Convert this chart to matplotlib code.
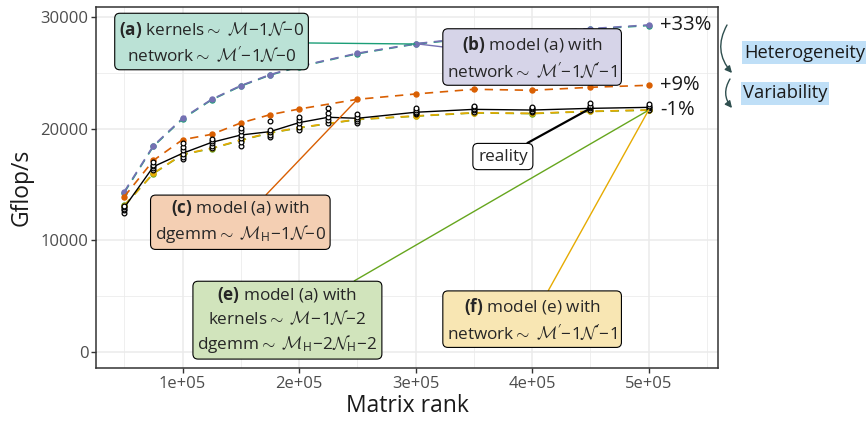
import matplotlib
matplotlib.use('Agg')
import matplotlib.pyplot as plt
from matplotlib import ticker

plt.rcParams['font.family'] = ['Open Sans', 'DejaVu Sans']
plt.rcParams['mathtext.fontset'] = 'custom'
plt.rcParams['mathtext.rm'] = 'Open Sans'
plt.rcParams['mathtext.it'] = 'Open Sans:italic'
plt.rcParams['mathtext.bf'] = 'Open Sans:bold'
plt.rcParams['mathtext.cal'] = 'cmsy10'


# data

model_x = [50000, 75000, 100000, 125000, 150000, 175000, 200000,
           250000, 300000, 350000, 400000, 450000, 500000]
model_a = [14300, 18450, 20900, 22620, 23850, 24830, 25580,
           26750, 27620, 28150, 28650, 28950, 29280]
model_b = [14380, 18500, 20960, 22660, 23890, 24870, 25620,
           26790, 27650, 28200, 28700, 29000, 29330]
model_c = [13930, 17180, 19040, 19520, 20540, 21280, 21790,
           22660, 23140, 23560, 23470, 23740, 23920]
model_e = [13150, 16000, 17700, 18250, 18980, 19640, 20100,
           20850, 21150, 21440, 21380, 21570, 21690]
model_f = [13120, 16030, 17730, 18270, 19010, 19670, 20120,
           20870, 21170, 21460, 21400, 21590, 21700]

reality_x = [50000, 75000, 100000, 125000, 150000, 175000, 200000,
             225000, 250000, 300000, 350000, 400000, 450000, 500000]
reality_mean = [12950, 16620, 17820, 18800, 19460, 19760, 20570,
                21050, 20960, 21500, 21760, 21700, 21850, 21940]
reality_runs = [
    [12500, 12700, 12850, 13000, 13100],
    [16300, 16500, 16650, 16800, 17000],
    [17300, 17500, 17800, 18100, 18400, 18700],
    [18300, 18500, 18700, 18900, 19100],
    [18500, 18800, 19200, 19500, 19800, 20100],
    [19300, 19500, 19700, 19900, 20700],
    [19900, 20200, 20500, 20800, 21100],
    [20500, 20800, 21100, 21400, 21900],
    [20500, 20700, 20900, 21100, 21300],
    [21300, 21450, 21550, 21700, 21850],
    [21550, 21700, 21800, 21950, 22100],
    [21550, 21650, 21750, 21850, 21950],
    [21700, 21850, 21950, 22100, 22350],
    [21700, 21850, 21950, 22100, 22250],
]

pct_labels = ['+33%', '+9%', '-1%']

# Dark2
colors = {'a': '#1B9E77', 'b': '#7570B3', 'c': '#D95F02', 'e': '#66A61E', 'f': '#E6AB02'}
fills = {'a': '#BBE2D6', 'b': '#D6D4E8', 'c': '#F4CFB3', 'e': '#D1E4BC', 'f': '#F8E6B3'}

label_texts = {
    'a': r'$\mathbf{(a)}$ kernels${\sim}$ $\mathcal{M}\!-\!1\mathcal{N}\!-\!0$' '\n'
         r'network${\sim}$ $\mathcal{M}^{\prime}\!-\!1\mathcal{N}\!-\!0$',
    'b': r'$\mathbf{(b)}$ model (a) with' '\n'
         r'network${\sim}$ $\mathcal{M}^{\prime}\!-\!1\mathcal{N}^{\prime}\!-\!1$',
    'c': r'$\mathbf{(c)}$ model (a) with' '\n'
         r'dgemm${\sim}$ $\mathcal{M}_{\mathrm{H}}\!-\!1\mathcal{N}\!-\!0$',
    'e': r'$\mathbf{(e)}$ model (a) with' '\n'
         r'kernels${\sim}$ $\mathcal{M}\!-\!1\mathcal{N}\!-\!2$' '\n'
         r'dgemm${\sim}$ $\mathcal{M}_{\mathrm{H}}\!-\!2\mathcal{N}_{\mathrm{H}}\!-\!2$',
    'f': r'$\mathbf{(f)}$ model (e) with' '\n'
         r'network${\sim}$ $\mathcal{M}^{\prime}\!-\!1\mathcal{N}^{\prime}\!-\!1$',
}


# plot

def px(x, y):
    # figure pixel (from top-left) -> figure fraction
    return x / 866, 1 - y / 421


def plot_series(ax):
    series = [('a', model_a), ('b', model_b), ('c', model_c), ('e', model_e), ('f', model_f)]
    for key, values in series:
        ax.plot(model_x, values, '--', color=colors[key], lw=1.2, dashes=(5, 4),
                marker='o', ms=3.6, zorder=3)

    ax.plot(reality_x, reality_mean, '-', color='black', lw=1.0, zorder=4)
    xs, ys = [], []
    for x, runs in zip(reality_x, reality_runs):
        xs += [x] * len(runs)
        ys += runs
    ax.plot(xs, ys, 'o', ms=3.4, mfc='white', mec='black', mew=0.9, zorder=5)


def plot_labels(ax):
    layout = [('a', model_a, 8, (124900, 27800)),
              ('b', model_b, 8, (400000, 26410)),
              ('c', model_c, 7, (149600, 11680)),
              ('e', model_e, 12, (190000, 2900)),
              ('f', model_f, 12, (400000, 2900))]
    for key, values, i, pos in layout:
        ax.annotate(label_texts[key], xy=(model_x[i], values[i]), xytext=pos,
                    ha='center', va='center', fontsize=12.3, color='#262626', linespacing=1.3,
                    bbox=dict(boxstyle='round,pad=0.25,rounding_size=0.3', fc=fills[key], ec='black', lw=0.8),
                    arrowprops=dict(arrowstyle='-', color=colors[key], lw=1.0, shrinkA=0, shrinkB=0),
                    zorder=6)

    ax.annotate('reality', xy=(reality_x[12], reality_mean[12]), xytext=(374900, 17530),
                ha='center', va='center', fontsize=12.3, color='#262626',
                bbox=dict(boxstyle='round,pad=0.3,rounding_size=0.3', fc='white', ec='black', lw=0.8),
                arrowprops=dict(arrowstyle='-', color='black', lw=1.6, shrinkA=0, shrinkB=0),
                zorder=6)

    ends = [model_b[-1], model_c[-1], model_f[-1]]
    for text, y in zip(pct_labels, ends):
        ax.text(510000, y, text, ha='left', va='center', fontsize=14.5, color='#1A1A1A')


def plot_side(fig):
    arrow = dict(arrowstyle='-|>', color='#2F4F4F', lw=1.0, mutation_scale=10,
                 connectionstyle='arc3,rad=0.35', shrinkA=0, shrinkB=0)
    fig.add_artist(matplotlib.patches.FancyArrowPatch(px(727, 25), px(732, 73),
                                                      transform=fig.transFigure, **arrow))
    fig.add_artist(matplotlib.patches.FancyArrowPatch(px(730, 79), px(732, 108),
                                                      transform=fig.transFigure, **arrow))
    box = dict(boxstyle='square,pad=0.12', fc='#BFDFF7', ec='none')
    fig.text(*px(805, 52.5), 'Heterogeneity', ha='center', va='center', fontsize=13.2,
             color='#1A1A1A', bbox=box)
    fig.text(*px(785, 93.5), 'Variability', ha='center', va='center', fontsize=13.2,
             color='#1A1A1A', bbox=box)


def show_widget(fig, ax):
    ax.set_xlim(25750, 559500)
    ax.set_ylim(-1435, 30940)
    ax.xaxis.set_major_locator(ticker.FixedLocator([100000, 200000, 300000, 400000, 500000]))
    ax.xaxis.set_minor_locator(ticker.FixedLocator([50000, 150000, 250000, 350000, 450000, 550000]))
    ax.yaxis.set_major_locator(ticker.FixedLocator([0, 10000, 20000, 30000]))
    ax.yaxis.set_minor_locator(ticker.FixedLocator([5000, 15000, 25000]))
    ax.xaxis.set_major_formatter(ticker.FuncFormatter(lambda v, p: f'{v:.0e}'))
    ax.yaxis.set_major_formatter(ticker.FuncFormatter(lambda v, p: f'{v:.0f}'))
    ax.grid(which='major', color='#EBEBEB', lw=1.1)
    ax.grid(which='minor', color='#EBEBEB', lw=0.55)
    ax.set_axisbelow(True)
    for s in ax.spines.values():
        s.set_color('#333333')
        s.set_linewidth(1.1)
    ax.tick_params(which='major', length=3.5, width=1.0, color='#333333',
                   labelcolor='#4D4D4D', labelsize=12, pad=2)
    ax.tick_params(which='minor', length=0)
    ax.set_xlabel('Matrix rank', fontsize=16.5, color='#1A1A1A', labelpad=2)
    ax.set_ylabel('Gflop/s', fontsize=16.5, color='#1A1A1A', labelpad=5)
    fig.savefig('out.png', dpi=100)


# main

def execute():
    fig = plt.figure(figsize=(8.66, 4.21), dpi=100)
    ax = fig.add_axes([96 / 866, 1 - 368 / 421, 622 / 866, 361 / 421])
    plot_series(ax)
    plot_labels(ax)
    plot_side(fig)
    show_widget(fig, ax)


if __name__ == '__main__':
    execute()
